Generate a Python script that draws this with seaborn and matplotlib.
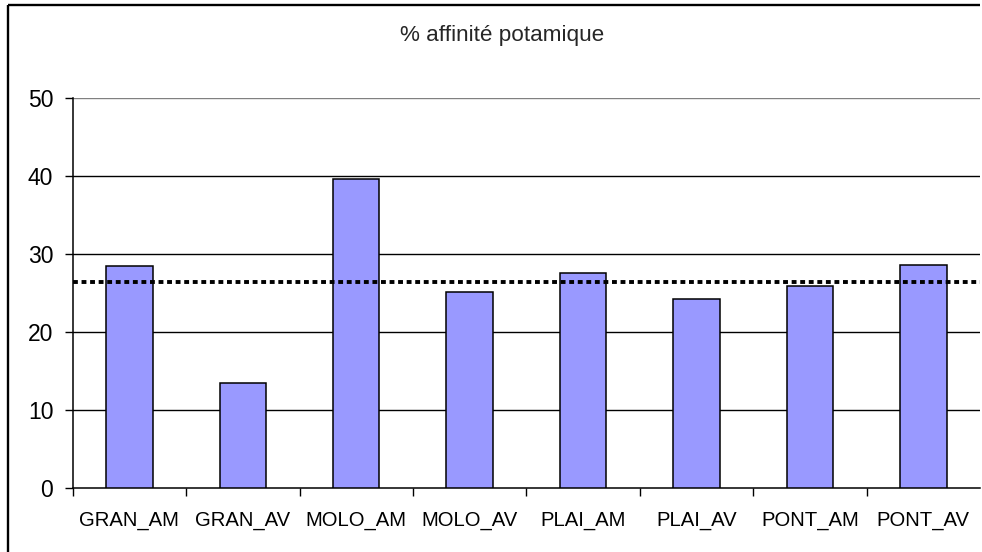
import matplotlib
matplotlib.use("Agg")
import matplotlib.pyplot as plt
from matplotlib.lines import Line2D
from matplotlib.ticker import FixedLocator
import seaborn as sns
import pandas as pd

# Stations and their share of potamic-affinity taxa (%)
stations = ["GRAN_AM", "GRAN_AV", "MOLO_AM", "MOLO_AV",
            "PLAI_AM", "PLAI_AV", "PONT_AM", "PONT_AV"]
affinite = [28.4, 13.4, 39.6, 25.1, 27.5, 24.2, 25.85, 28.5]
reference_line = 26.4
y_ticks = [0, 10, 20, 30, 40, 50]
title = "% affinité potamique"

sns.set_style("white")
plt.rcParams["font.family"] = ["Liberation Sans", "DejaVu Sans"]

W, H = 982, 552
fig = plt.figure(figsize=(W / 100, H / 100), dpi=100)
ax = fig.add_axes([72.7 / W, (H - 487.7) / H, (W - 2 - 72.7) / W, 390 / H])

df = pd.DataFrame({"station": stations, "affinite": affinite})
sns.barplot(data=df, x="station", y="affinite", color="#9999FF",
            saturation=1, width=0.41, edgecolor="black", linewidth=1.1,
            ax=ax, zorder=3)

ax.set_ylim(0, 50)
ax.set_xlim(-0.5, len(stations) - 0.5)
ax.set_yticks(y_ticks)
ax.set_xlabel("")
ax.set_ylabel("")

# horizontal gridlines
for v in y_ticks[1:]:
    ax.axhline(v, color="black" if v < 50 else "#808080", lw=1.0, zorder=1)

# dotted reference level
ax.axhline(reference_line, color="black", lw=2.8, ls=(0, (1.25, 0.95)), zorder=4)

for s in ["top", "right"]:
    ax.spines[s].set_visible(False)
for s in ["left", "bottom"]:
    ax.spines[s].set_color("black")
    ax.spines[s].set_linewidth(1.1)

ax.tick_params(axis="y", left=True, direction="out", length=6, width=1.0,
               color="black", pad=8, labelsize=16.5, labelcolor="black")
ax.tick_params(axis="x", which="major", length=0, pad=17, labelsize=14.6,
               labelcolor="black")
# tick marks between categories
ax.xaxis.set_minor_locator(FixedLocator([i - 0.5 for i in range(len(stations))]))
ax.tick_params(axis="x", which="minor", bottom=True, direction="out",
               length=6, width=1.0, color="black")

fig.text(502 / W, 1 - 35 / H, title, ha="center", va="center", fontsize=16.2)

# chart frame (left and top edges), kept inside the canvas
x0, y0 = 7.5 / W, 1 - 4.5 / H
fig.lines.append(Line2D([x0, x0], [0, y0], transform=fig.transFigure,
                        color="black", lw=1.7, solid_capstyle="butt"))
fig.lines.append(Line2D([x0, 1 - 2 / W], [y0, y0], transform=fig.transFigure,
                        color="black", lw=1.7, solid_capstyle="butt"))

fig.savefig("out.png", dpi=100, facecolor="white")
